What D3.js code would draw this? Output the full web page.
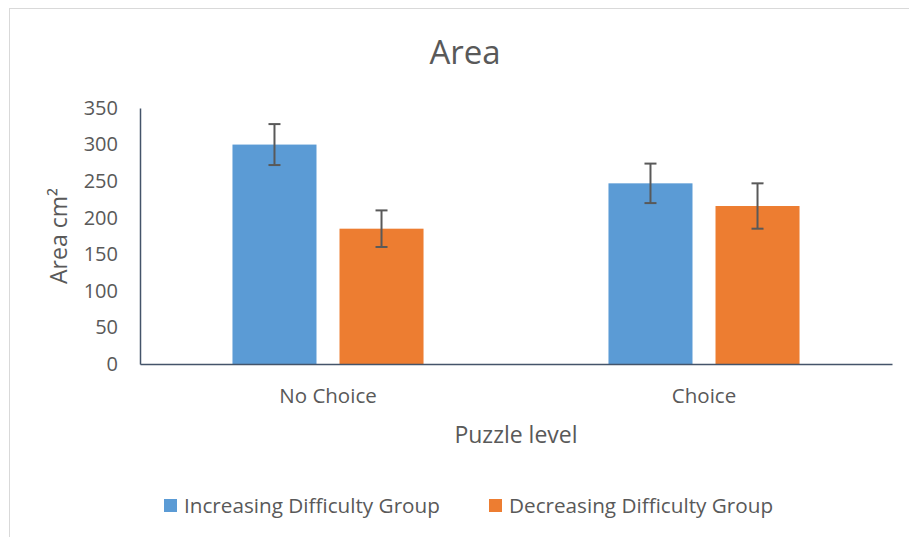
<!DOCTYPE html>
<html>
<head>
<meta charset="utf-8">
<script src="https://cdn.jsdelivr.net/npm/d3@7"></script>
<style>
  body { margin: 0; background: #fff; }
  text { font-family: "Open Sans", "Noto Sans", sans-serif; fill: #595959; }
</style>
</head>
<body>
<svg width="909" height="537"></svg>
<script>
var categories = ["No Choice", "Choice"];
var groups = ["Increasing Difficulty Group", "Decreasing Difficulty Group"];
var colors = ["#5b9bd5", "#ed7d31"];
// mean area per group, per category
var increasing = [300, 247];
var decreasing = [185, 216];
var increasingErr = [28, 27];
var decreasingErr = [25, 31];
var yTicks = [0, 50, 100, 150, 200, 250, 300, 350];

var svg = d3.select("svg"),
    width = +svg.attr("width"),
    height = +svg.attr("height");

// chart frame
svg.append("rect")
    .attr("x", 9.5).attr("y", 8.5)
    .attr("width", 920).attr("height", 560)
    .attr("fill", "none")
    .attr("stroke", "#d9d9d9");

var plotLeft = 140, plotRight = 892, plotTop = 108, plotBottom = 364;

var x = d3.scaleBand()
    .domain(categories)
    .range([plotLeft, plotRight]);

var xs = d3.scaleBand()
    .domain(groups)
    .range([0, x.bandwidth()])
    .paddingInner(0.215)
    .paddingOuter(0.864);

var y = d3.scaleLinear()
    .domain([0, 350])
    .range([plotBottom, plotTop]);

var rows = [];
categories.forEach(function (c, i) {
    rows.push({cat: c, group: groups[0], v: increasing[i], e: increasingErr[i], color: colors[0]});
    rows.push({cat: c, group: groups[1], v: decreasing[i], e: decreasingErr[i], color: colors[1]});
});

svg.append("g")
    .selectAll("rect")
    .data(rows)
    .enter().append("rect")
    .attr("x", function (d) { return x(d.cat) + xs(d.group); })
    .attr("y", function (d) { return y(d.v); })
    .attr("width", xs.bandwidth())
    .attr("height", function (d) { return y(0) - y(d.v); })
    .attr("fill", function (d) { return d.color; });

// error bars
var eb = svg.append("g")
    .attr("stroke", "#595959")
    .attr("stroke-width", 2)
    .selectAll("g")
    .data(rows)
    .enter().append("g")
    .attr("transform", function (d) {
        return "translate(" + (x(d.cat) + xs(d.group) + xs.bandwidth() / 2) + ",0)";
    });
eb.append("line")
    .attr("y1", function (d) { return y(d.v + d.e); })
    .attr("y2", function (d) { return y(d.v - d.e); });
eb.append("line")
    .attr("x1", -6).attr("x2", 6)
    .attr("y1", function (d) { return y(d.v + d.e); })
    .attr("y2", function (d) { return y(d.v + d.e); });
eb.append("line")
    .attr("x1", -6).attr("x2", 6)
    .attr("y1", function (d) { return y(d.v - d.e); })
    .attr("y2", function (d) { return y(d.v - d.e); });

// y axis
var yAxis = svg.append("g")
    .attr("transform", "translate(" + plotLeft + ",0)")
    .call(d3.axisLeft(y).tickValues(yTicks).tickSize(0).tickPadding(22));
yAxis.select(".domain").attr("stroke", "#44546a").attr("stroke-width", 1.5);
yAxis.selectAll("text").attr("font-size", 20).attr("fill", "#595959")
    .style("font-family", "'Open Sans', sans-serif");

// x axis
var xAxis = svg.append("g")
    .attr("transform", "translate(0," + plotBottom + ")")
    .call(d3.axisBottom(x).tickSize(0).tickPadding(24));
xAxis.select(".domain").attr("stroke", "#44546a").attr("stroke-width", 1.5);
xAxis.selectAll("text").attr("font-size", 20.5).attr("fill", "#595959")
    .style("font-family", "'Open Sans', sans-serif");

// titles
svg.append("text")
    .attr("x", 465).attr("y", 64)
    .attr("text-anchor", "middle")
    .attr("font-size", 33)
    .text("Area");

svg.append("text")
    .attr("transform", "translate(67,236) rotate(-90)")
    .attr("text-anchor", "middle")
    .attr("font-size", 23)
    .text("Area cm²");

svg.append("text")
    .attr("x", (plotLeft + plotRight) / 2).attr("y", 443)
    .attr("text-anchor", "middle")
    .attr("font-size", 23)
    .text("Puzzle level");

// legend
var legendX = [164, 489];
var legend = svg.append("g")
    .selectAll("g")
    .data(groups)
    .enter().append("g")
    .attr("transform", function (d, i) { return "translate(" + legendX[i] + ",499)"; });
legend.append("rect")
    .attr("width", 13).attr("height", 13)
    .attr("fill", function (d, i) { return colors[i]; });
legend.append("text")
    .attr("x", 20).attr("y", 14)
    .attr("font-size", 20.7)
    .text(function (d) { return d; });
</script>
</body>
</html>
